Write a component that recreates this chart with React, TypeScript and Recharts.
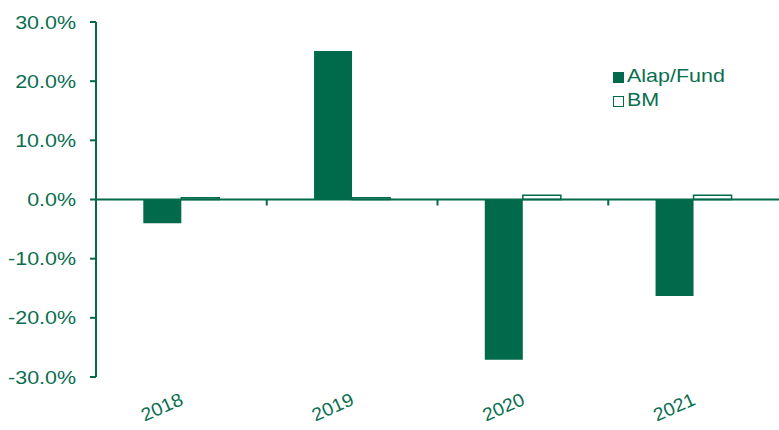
import React from "react";
import { BarChart, Bar, XAxis, YAxis, ReferenceLine } from "recharts";

const categories = ["2018", "2019", "2020", "2021"];
const fundValues = [-4.0, 25.1, -27.1, -16.3];
const bmValues = [0.3, 0.3, 0.7, 0.7];
const yTicks = [-30, -20, -10, 0, 10, 20, 30];
const seriesNames = ["Alap/Fund", "BM"];

const data = categories.map((c, i) => ({ year: c, fund: fundValues[i], bm: bmValues[i] }));

const W = 779;
const H = 430;
const MARGIN = { top: 22, right: 0, bottom: 3, left: 0 };
const Y_AXIS_W = 96;
const X_AXIS_H = 50;
const Y_MIN = -30;
const Y_MAX = 30;
const GREEN = "#006A4B";
const TEXT = "#0A6E4F";
const FONT = "'Liberation Sans', Arial, sans-serif";
const FS = 18.5;
const SX = 1.16;

const plotLeft = MARGIN.left + Y_AXIS_W;
const plotW = W - MARGIN.right - plotLeft;
const plotTop = MARGIN.top;
const plotH = H - MARGIN.top - MARGIN.bottom - X_AXIS_H;
const zeroY = plotTop + (plotH * (Y_MAX - 0)) / (Y_MAX - Y_MIN);
const band = plotW / categories.length;

const YTick = (props: any) => {
  const { x, y, payload } = props;
  return (
    <g transform={`translate(${x},${y}) scale(${SX},1)`}>
      <text x={0} y={0} dy="0.36em" textAnchor="end" fill={TEXT} fontSize={FS} fontFamily={FONT}>
        {`${Number(payload.value).toFixed(1)}%`}
      </text>
    </g>
  );
};

const XTick = (props: any) => {
  const { x, payload, index } = props;
  const plotBottom = plotTop + plotH;
  return (
    <g>
      {index > 0 && (
        <line x1={x - band / 2} x2={x - band / 2} y1={zeroY} y2={zeroY + 6} stroke={GREEN} strokeWidth={2} />
      )}
      <text
        x={0}
        y={0}
        transform={`translate(${x + 3},${plotBottom + 27}) rotate(-24) scale(1.06,1)`}
        textAnchor="end"
        fill={TEXT}
        fontSize={18.5}
        fontFamily={FONT}
      >
        {payload.value}
      </text>
    </g>
  );
};

const LegendBox = () => (
  <div
    style={{
      position: "absolute",
      left: 613,
      top: 64,
      width: 160,
      fontFamily: FONT,
      fontSize: FS,
      color: TEXT,
    }}
  >
    {seriesNames.map((name, i) => (
      <div key={name} style={{ display: "flex", alignItems: "center", height: 24, lineHeight: "24px" }}>
        <span
          style={{
            display: "inline-block",
            boxSizing: "border-box",
            width: 11,
            height: 11,
            background: i === 0 ? GREEN : "#fff",
            border: i === 0 ? "none" : `1.5px solid ${GREEN}`,
            marginRight: 3,
            marginTop: 3,
          }}
        />
        <span style={{ display: "inline-block", transform: `scaleX(${SX})`, transformOrigin: "left center", whiteSpace: "nowrap" }}>
          {name}
        </span>
      </div>
    ))}
  </div>
);

export default function App() {
  return (
    <div style={{ position: "absolute", left: 0, top: 0, width: W, height: H, background: "#fff" }}>
      <BarChart width={W} height={H} data={data} margin={MARGIN} barCategoryGap="27.7%" barGap={0}>
        <XAxis dataKey="year" axisLine={false} tickLine={false} height={X_AXIS_H} tick={<XTick />} interval={0} />
        <YAxis
          domain={[Y_MIN, Y_MAX]}
          ticks={yTicks}
          width={Y_AXIS_W}
          axisLine={{ stroke: GREEN, strokeWidth: 2 }}
          tickLine={{ stroke: GREEN, strokeWidth: 2 }}
          tickSize={6}
          tick={<YTick />}
          tickMargin={14}
          interval={0}
          allowDataOverflow
        />
        <Bar dataKey="fund" name={seriesNames[0]} fill={GREEN} isAnimationActive={false} />
        <Bar dataKey="bm" name={seriesNames[1]} fill="#ffffff" stroke={GREEN} strokeWidth={1.5} isAnimationActive={false} />
        <ReferenceLine y={0} stroke={GREEN} strokeWidth={2} />
      </BarChart>
      <LegendBox />
    </div>
  );
}
